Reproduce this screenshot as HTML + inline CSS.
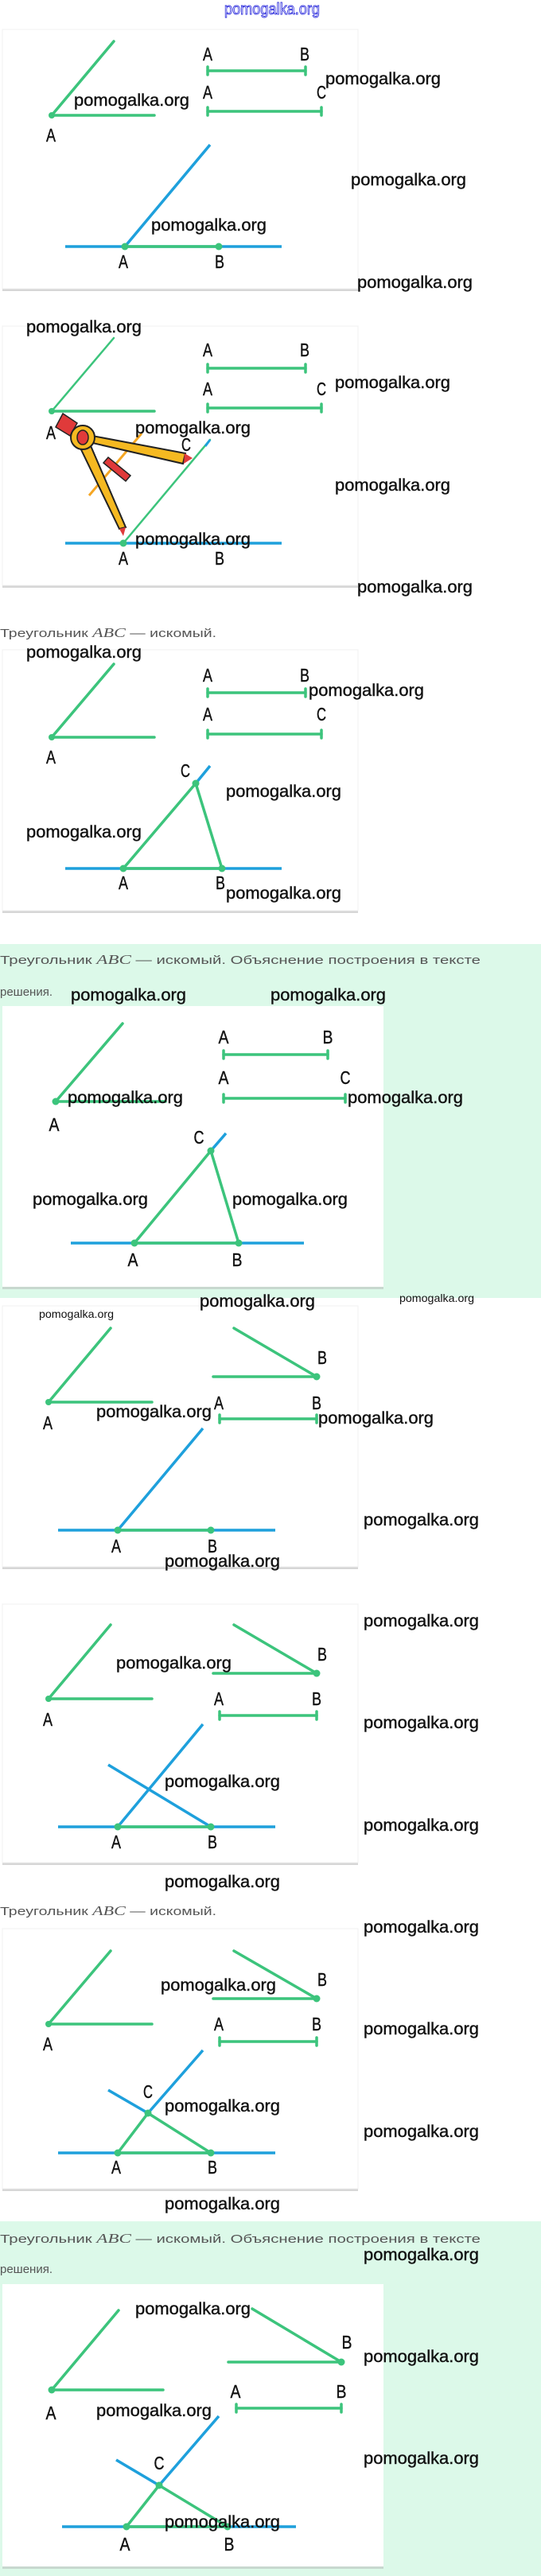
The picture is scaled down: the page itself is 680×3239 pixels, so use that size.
<!DOCTYPE html>
<html><head><meta charset="utf-8"><style>
html,body{margin:0;padding:0;background:#fff}
svg{display:block}
.g{stroke:#3cc47c;stroke-width:3.5;fill:none;stroke-linecap:round}
.b{stroke:#1ea0dc;stroke-width:3.5;fill:none}
.d{fill:#3cc47c}
.L{font-family:"Liberation Sans",sans-serif;font-size:23px;fill:#111;stroke:#111;stroke-width:0.4}
.w{font-family:"Liberation Sans",sans-serif;font-size:21px;fill:#111;stroke:#111;stroke-width:0.4}
.ws{font-family:"Liberation Sans",sans-serif;font-size:14px;fill:#111}
.c{font-family:"Liberation Sans","DejaVu Sans",sans-serif;font-size:15px;fill:#555}
.m{font-family:"Liberation Serif",serif;font-style:italic}
</style></head><body>
<svg width="680" height="3239" viewBox="0 0 680 3239" xmlns="http://www.w3.org/2000/svg">
<rect x="0" y="1187" width="680" height="445" fill="#dcf9e9"/>
<rect x="0" y="2793" width="680" height="446" fill="#dcf9e9"/>

<text x="342" y="18" text-anchor="middle" font-family="Liberation Sans" font-size="20" fill="#fff" stroke="#3333dd" stroke-width="0.9" textLength="120" lengthAdjust="spacingAndGlyphs">pomogalka.org</text>

<!-- ===== Panel 1 ===== -->
<rect x="3" y="39" width="447" height="327" fill="#d6d6d6"/>
<rect x="3" y="37" width="447" height="326" fill="#fff" stroke="#f0f0f0"/>
<line class="g" x1="65" y1="145" x2="143" y2="52"/><line class="g" x1="65" y1="145" x2="194" y2="145"/><circle class="d" cx="65" cy="145" r="4"/>
<text class="L" x="64" y="178" text-anchor="middle" textLength="12" lengthAdjust="spacingAndGlyphs">A</text>
<line class="g" x1="261" y1="89" x2="384" y2="89"/><line class="g" x1="261" y1="84" x2="261" y2="94"/><line class="g" x1="384" y1="84" x2="384" y2="94"/>
<text class="L" x="261" y="76" text-anchor="middle" textLength="12" lengthAdjust="spacingAndGlyphs">A</text><text class="L" x="383" y="76" text-anchor="middle" textLength="12" lengthAdjust="spacingAndGlyphs">B</text>
<line class="g" x1="261" y1="140" x2="404" y2="140"/><line class="g" x1="261" y1="135" x2="261" y2="145"/><line class="g" x1="404" y1="135" x2="404" y2="145"/>
<text class="L" x="261" y="124" text-anchor="middle" textLength="12" lengthAdjust="spacingAndGlyphs">A</text><text class="L" x="404" y="124" text-anchor="middle" textLength="12" lengthAdjust="spacingAndGlyphs">C</text>
<line class="b" x1="82" y1="310" x2="354" y2="310"/><line class="b" x1="157" y1="310" x2="264" y2="182"/><line class="g" x1="157" y1="310" x2="275" y2="310"/>
<circle class="d" cx="157" cy="310" r="4.5"/><circle class="d" cx="275" cy="310" r="4.5"/>
<text class="L" x="155" y="337" text-anchor="middle" textLength="12" lengthAdjust="spacingAndGlyphs">A</text><text class="L" x="276" y="337" text-anchor="middle" textLength="12" lengthAdjust="spacingAndGlyphs">B</text>
<text class="w" x="409" y="106" textLength="145" lengthAdjust="spacingAndGlyphs">pomogalka.org</text>
<text class="w" x="93" y="133" textLength="145" lengthAdjust="spacingAndGlyphs">pomogalka.org</text>
<text class="w" x="441" y="233" textLength="145" lengthAdjust="spacingAndGlyphs">pomogalka.org</text>
<text class="w" x="190" y="290" textLength="145" lengthAdjust="spacingAndGlyphs">pomogalka.org</text>
<text class="w" x="449" y="362" textLength="145" lengthAdjust="spacingAndGlyphs">pomogalka.org</text>

<!-- ===== Panel 2 ===== -->
<rect x="3" y="412" width="447" height="327" fill="#d6d6d6"/>
<rect x="3" y="410" width="447" height="326" fill="#fff" stroke="#f0f0f0"/>
<line class="g" x1="65" y1="517" x2="143" y2="425" style="stroke-width:2.5"/><line class="g" x1="65" y1="517" x2="194" y2="517"/><circle class="d" cx="65" cy="517" r="4"/>
<text class="L" x="64" y="552" text-anchor="middle" textLength="12" lengthAdjust="spacingAndGlyphs">A</text>
<line class="g" x1="261" y1="463" x2="384" y2="463"/><line class="g" x1="261" y1="458" x2="261" y2="468"/><line class="g" x1="384" y1="458" x2="384" y2="468"/>
<text class="L" x="261" y="448" text-anchor="middle" textLength="12" lengthAdjust="spacingAndGlyphs">A</text><text class="L" x="383" y="448" text-anchor="middle" textLength="12" lengthAdjust="spacingAndGlyphs">B</text>
<line class="g" x1="261" y1="513" x2="404" y2="513"/><line class="g" x1="261" y1="508" x2="261" y2="518"/><line class="g" x1="404" y1="508" x2="404" y2="518"/>
<text class="L" x="261" y="497" text-anchor="middle" textLength="12" lengthAdjust="spacingAndGlyphs">A</text><text class="L" x="404" y="497" text-anchor="middle" textLength="12" lengthAdjust="spacingAndGlyphs">C</text>
<line class="b" x1="82" y1="683" x2="354" y2="683"/><line class="g" x1="155" y1="683" x2="264" y2="553" style="stroke-width:2.5"/>
<line x1="264" y1="553" x2="258" y2="561" stroke="#1ea0dc" stroke-width="3"/>
<circle class="d" cx="155" cy="683" r="4.5"/>
<text class="L" x="155" y="710" text-anchor="middle" textLength="12" lengthAdjust="spacingAndGlyphs">A</text><text class="L" x="276" y="710" text-anchor="middle" textLength="12" lengthAdjust="spacingAndGlyphs">B</text>
<text class="L" x="234" y="567" text-anchor="middle" textLength="12" lengthAdjust="spacingAndGlyphs">C</text>
<line x1="112" y1="623" x2="178" y2="545" stroke="#f5a623" stroke-width="3"/>
<polygon points="70,537 88,548 97,532 79,520" fill="#e03a3a" stroke="#222" stroke-width="1.5"/>
<polygon points="100,545 112,556 230,583 233,570" fill="#f5b921" stroke="#222" stroke-width="2"/>
<polygon points="232,570 242,576 231,583" fill="#e03a3a"/>
<polygon points="97,555 112,556 158,663 150,665" fill="#f5b921" stroke="#222" stroke-width="2"/>
<polygon points="150,665 158,663 155,674" fill="#e03a3a"/>
<circle cx="104" cy="550" r="15" fill="#f5b921" stroke="#222" stroke-width="2"/>
<ellipse cx="104" cy="550" rx="7" ry="9" fill="#e03a3a" stroke="#222" stroke-width="1.5"/>
<polygon points="130,582 136,575 164,598 158,605" fill="#e03a3a" stroke="#222" stroke-width="1.5"/>
<text class="w" x="33" y="418" textLength="145" lengthAdjust="spacingAndGlyphs">pomogalka.org</text>
<text class="w" x="421" y="488" textLength="145" lengthAdjust="spacingAndGlyphs">pomogalka.org</text>
<text class="w" x="170" y="545" textLength="145" lengthAdjust="spacingAndGlyphs">pomogalka.org</text>
<text class="w" x="421" y="617" textLength="145" lengthAdjust="spacingAndGlyphs">pomogalka.org</text>
<text class="w" x="170" y="685" textLength="145" lengthAdjust="spacingAndGlyphs">pomogalka.org</text>
<text class="w" x="449" y="745" textLength="145" lengthAdjust="spacingAndGlyphs">pomogalka.org</text>

<text class="c" x="0" y="801" textLength="272" lengthAdjust="spacingAndGlyphs">Треугольник <tspan class="m" font-size="17">ABC</tspan> — искомый.</text>

<!-- ===== Panel 3 ===== -->
<rect x="3" y="819" width="447" height="329" fill="#d6d6d6"/>
<rect x="3" y="817" width="447" height="328" fill="#fff" stroke="#f0f0f0"/>
<line class="g" x1="65" y1="927" x2="143" y2="835"/><line class="g" x1="65" y1="927" x2="194" y2="927"/><circle class="d" cx="65" cy="927" r="4"/>
<text class="L" x="64" y="960" text-anchor="middle" textLength="12" lengthAdjust="spacingAndGlyphs">A</text>
<line class="g" x1="261" y1="871" x2="384" y2="871"/><line class="g" x1="261" y1="866" x2="261" y2="876"/><line class="g" x1="384" y1="866" x2="384" y2="876"/>
<text class="L" x="261" y="857" text-anchor="middle" textLength="12" lengthAdjust="spacingAndGlyphs">A</text><text class="L" x="383" y="857" text-anchor="middle" textLength="12" lengthAdjust="spacingAndGlyphs">B</text>
<line class="g" x1="261" y1="923" x2="404" y2="923"/><line class="g" x1="261" y1="918" x2="261" y2="928"/><line class="g" x1="404" y1="918" x2="404" y2="928"/>
<text class="L" x="261" y="906" text-anchor="middle" textLength="12" lengthAdjust="spacingAndGlyphs">A</text><text class="L" x="404" y="906" text-anchor="middle" textLength="12" lengthAdjust="spacingAndGlyphs">C</text>
<line class="b" x1="82" y1="1092" x2="354" y2="1092"/><line class="b" x1="246" y1="985" x2="264" y2="963"/>
<line class="g" x1="155" y1="1092" x2="279" y2="1092"/><line class="g" x1="155" y1="1092" x2="246" y2="985"/><line class="g" x1="246" y1="985" x2="279" y2="1092"/>
<circle class="d" cx="155" cy="1092" r="4.5"/><circle class="d" cx="279" cy="1092" r="4.5"/><circle class="d" cx="246" cy="985" r="4.5"/>
<text class="L" x="155" y="1118" text-anchor="middle" textLength="12" lengthAdjust="spacingAndGlyphs">A</text><text class="L" x="277" y="1118" text-anchor="middle" textLength="12" lengthAdjust="spacingAndGlyphs">B</text>
<text class="L" x="233" y="977" text-anchor="middle" textLength="12" lengthAdjust="spacingAndGlyphs">C</text>
<text class="w" x="33" y="827" textLength="145" lengthAdjust="spacingAndGlyphs">pomogalka.org</text>
<text class="w" x="388" y="875" textLength="145" lengthAdjust="spacingAndGlyphs">pomogalka.org</text>
<text class="w" x="284" y="1002" textLength="145" lengthAdjust="spacingAndGlyphs">pomogalka.org</text>
<text class="w" x="33" y="1053" textLength="145" lengthAdjust="spacingAndGlyphs">pomogalka.org</text>
<text class="w" x="284" y="1130" textLength="145" lengthAdjust="spacingAndGlyphs">pomogalka.org</text>

<!-- ===== Panel 4 ===== -->
<text class="c" x="0" y="1212" textLength="604" lengthAdjust="spacingAndGlyphs">Треугольник <tspan class="m" font-size="17">ABC</tspan> — искомый. Объяснение построения в тексте</text>
<text class="c" x="0" y="1252">решения.</text>
<rect x="3" y="1267" width="479" height="354" fill="#c8d8cf"/>
<rect x="3" y="1265" width="479" height="353" fill="#fff"/>
<line class="g" x1="70" y1="1385" x2="154" y2="1287"/><line class="g" x1="70" y1="1385" x2="208" y2="1385"/><circle class="d" cx="70" cy="1385" r="4.5"/>
<text class="L" x="68" y="1422" text-anchor="middle" textLength="13" lengthAdjust="spacingAndGlyphs">A</text>
<line class="g" x1="281" y1="1326" x2="412" y2="1326"/><line class="g" x1="281" y1="1321" x2="281" y2="1331"/><line class="g" x1="412" y1="1321" x2="412" y2="1331"/>
<text class="L" x="281" y="1312" text-anchor="middle" textLength="13" lengthAdjust="spacingAndGlyphs">A</text><text class="L" x="412" y="1312" text-anchor="middle" textLength="13" lengthAdjust="spacingAndGlyphs">B</text>
<line class="g" x1="281" y1="1381" x2="434" y2="1381"/><line class="g" x1="281" y1="1376" x2="281" y2="1386"/><line class="g" x1="434" y1="1376" x2="434" y2="1386"/>
<text class="L" x="281" y="1363" text-anchor="middle" textLength="13" lengthAdjust="spacingAndGlyphs">A</text><text class="L" x="434" y="1363" text-anchor="middle" textLength="13" lengthAdjust="spacingAndGlyphs">C</text>
<line class="b" x1="89" y1="1563" x2="382" y2="1563"/><line class="b" x1="265" y1="1447" x2="284" y2="1425"/>
<line class="g" x1="169" y1="1563" x2="300" y2="1563"/><line class="g" x1="169" y1="1563" x2="265" y2="1447"/><line class="g" x1="265" y1="1447" x2="300" y2="1563"/>
<circle class="d" cx="169" cy="1563" r="4.5"/><circle class="d" cx="300" cy="1563" r="4.5"/><circle class="d" cx="265" cy="1447" r="4.5"/>
<text class="L" x="167" y="1592" text-anchor="middle" textLength="13" lengthAdjust="spacingAndGlyphs">A</text><text class="L" x="298" y="1592" text-anchor="middle" textLength="13" lengthAdjust="spacingAndGlyphs">B</text>
<text class="L" x="250" y="1438" text-anchor="middle" textLength="13" lengthAdjust="spacingAndGlyphs">C</text>
<text class="w" x="89" y="1258" textLength="145" lengthAdjust="spacingAndGlyphs">pomogalka.org</text>
<text class="w" x="340" y="1258" textLength="145" lengthAdjust="spacingAndGlyphs">pomogalka.org</text>
<text class="w" x="85" y="1387" textLength="145" lengthAdjust="spacingAndGlyphs">pomogalka.org</text>
<text class="w" x="437" y="1387" textLength="145" lengthAdjust="spacingAndGlyphs">pomogalka.org</text>
<text class="w" x="41" y="1515" textLength="145" lengthAdjust="spacingAndGlyphs">pomogalka.org</text>
<text class="w" x="292" y="1515" textLength="145" lengthAdjust="spacingAndGlyphs">pomogalka.org</text>

<!-- ===== Panel 5 ===== -->
<rect x="3" y="1644" width="447" height="329" fill="#d6d6d6"/>
<rect x="3" y="1642" width="447" height="328" fill="#fff" stroke="#f0f0f0"/>
<text class="w" x="251" y="1643" textLength="145" lengthAdjust="spacingAndGlyphs">pomogalka.org</text>
<text class="ws" x="502" y="1637" textLength="94" lengthAdjust="spacingAndGlyphs">pomogalka.org</text>
<text class="ws" x="49" y="1657" textLength="94" lengthAdjust="spacingAndGlyphs">pomogalka.org</text>
<line class="g" x1="61" y1="1763" x2="139" y2="1670"/><line class="g" x1="61" y1="1763" x2="191" y2="1763"/><circle class="d" cx="61" cy="1763" r="4"/>
<text class="L" x="60" y="1797" text-anchor="middle" textLength="12" lengthAdjust="spacingAndGlyphs">A</text>
<line class="g" x1="294" y1="1670" x2="398" y2="1731"/><line class="g" x1="268" y1="1731" x2="398" y2="1731"/><circle class="d" cx="398" cy="1731" r="4.5"/>
<text class="L" x="405" y="1715" text-anchor="middle" textLength="12" lengthAdjust="spacingAndGlyphs">B</text>
<line class="g" x1="276" y1="1784" x2="398" y2="1784"/><line class="g" x1="276" y1="1779" x2="276" y2="1789"/><line class="g" x1="398" y1="1779" x2="398" y2="1789"/>
<text class="L" x="275" y="1772" text-anchor="middle" textLength="12" lengthAdjust="spacingAndGlyphs">A</text><text class="L" x="398" y="1772" text-anchor="middle" textLength="12" lengthAdjust="spacingAndGlyphs">B</text>
<line class="b" x1="73" y1="1924" x2="346" y2="1924"/><line class="b" x1="148" y1="1924" x2="255" y2="1796"/><line class="g" x1="148" y1="1924" x2="265" y2="1924"/>
<circle class="d" cx="148" cy="1924" r="4.5"/><circle class="d" cx="265" cy="1924" r="4.5"/>
<text class="L" x="146" y="1952" text-anchor="middle" textLength="12" lengthAdjust="spacingAndGlyphs">A</text><text class="L" x="267" y="1952" text-anchor="middle" textLength="12" lengthAdjust="spacingAndGlyphs">B</text>
<text class="w" x="121" y="1782" textLength="145" lengthAdjust="spacingAndGlyphs">pomogalka.org</text>
<text class="w" x="400" y="1790" textLength="145" lengthAdjust="spacingAndGlyphs">pomogalka.org</text>
<text class="w" x="457" y="1918" textLength="145" lengthAdjust="spacingAndGlyphs">pomogalka.org</text>
<text class="w" x="207" y="1970" textLength="145" lengthAdjust="spacingAndGlyphs">pomogalka.org</text>

<!-- ===== Panel 6 ===== -->
<rect x="3" y="2019" width="447" height="326" fill="#d6d6d6"/>
<rect x="3" y="2017" width="447" height="325" fill="#fff" stroke="#f0f0f0"/>
<line class="g" x1="61" y1="2136" x2="139" y2="2043"/><line class="g" x1="61" y1="2136" x2="191" y2="2136"/><circle class="d" cx="61" cy="2136" r="4"/>
<text class="L" x="60" y="2170" text-anchor="middle" textLength="12" lengthAdjust="spacingAndGlyphs">A</text>
<line class="g" x1="294" y1="2043" x2="398" y2="2104"/><line class="g" x1="268" y1="2104" x2="398" y2="2104"/><circle class="d" cx="398" cy="2104" r="4.5"/>
<text class="L" x="405" y="2088" text-anchor="middle" textLength="12" lengthAdjust="spacingAndGlyphs">B</text>
<line class="g" x1="276" y1="2157" x2="398" y2="2157"/><line class="g" x1="276" y1="2152" x2="276" y2="2162"/><line class="g" x1="398" y1="2152" x2="398" y2="2162"/>
<text class="L" x="275" y="2144" text-anchor="middle" textLength="12" lengthAdjust="spacingAndGlyphs">A</text><text class="L" x="398" y="2144" text-anchor="middle" textLength="12" lengthAdjust="spacingAndGlyphs">B</text>
<line class="b" x1="73" y1="2297" x2="346" y2="2297"/><line class="b" x1="148" y1="2297" x2="255" y2="2168"/><line class="b" x1="265" y1="2297" x2="136" y2="2219"/><line class="g" x1="148" y1="2297" x2="265" y2="2297"/>
<circle class="d" cx="148" cy="2297" r="4.5"/><circle class="d" cx="265" cy="2297" r="4.5"/>
<text class="L" x="146" y="2324" text-anchor="middle" textLength="12" lengthAdjust="spacingAndGlyphs">A</text><text class="L" x="267" y="2324" text-anchor="middle" textLength="12" lengthAdjust="spacingAndGlyphs">B</text>
<text class="w" x="457" y="2045" textLength="145" lengthAdjust="spacingAndGlyphs">pomogalka.org</text>
<text class="w" x="146" y="2098" textLength="145" lengthAdjust="spacingAndGlyphs">pomogalka.org</text>
<text class="w" x="457" y="2173" textLength="145" lengthAdjust="spacingAndGlyphs">pomogalka.org</text>
<text class="w" x="207" y="2247" textLength="145" lengthAdjust="spacingAndGlyphs">pomogalka.org</text>
<text class="w" x="457" y="2302" textLength="145" lengthAdjust="spacingAndGlyphs">pomogalka.org</text>
<text class="w" x="207" y="2373" textLength="145" lengthAdjust="spacingAndGlyphs">pomogalka.org</text>

<!-- ===== Panel 7 ===== -->
<text class="c" x="0" y="2408" textLength="272" lengthAdjust="spacingAndGlyphs">Треугольник <tspan class="m" font-size="17">ABC</tspan> — искомый.</text>
<rect x="3" y="2427" width="447" height="328" fill="#d6d6d6"/>
<rect x="3" y="2425" width="447" height="327" fill="#fff" stroke="#f0f0f0"/>
<line class="g" x1="61" y1="2545" x2="139" y2="2453"/><line class="g" x1="61" y1="2545" x2="191" y2="2545"/><circle class="d" cx="61" cy="2545" r="4"/>
<text class="L" x="60" y="2578" text-anchor="middle" textLength="12" lengthAdjust="spacingAndGlyphs">A</text>
<line class="g" x1="294" y1="2453" x2="398" y2="2513"/><line class="g" x1="268" y1="2513" x2="398" y2="2513"/><circle class="d" cx="398" cy="2513" r="4.5"/>
<text class="L" x="405" y="2497" text-anchor="middle" textLength="12" lengthAdjust="spacingAndGlyphs">B</text>
<line class="g" x1="276" y1="2567" x2="398" y2="2567"/><line class="g" x1="276" y1="2562" x2="276" y2="2572"/><line class="g" x1="398" y1="2562" x2="398" y2="2572"/>
<text class="L" x="275" y="2553" text-anchor="middle" textLength="12" lengthAdjust="spacingAndGlyphs">A</text><text class="L" x="398" y="2553" text-anchor="middle" textLength="12" lengthAdjust="spacingAndGlyphs">B</text>
<line class="b" x1="73" y1="2707" x2="346" y2="2707"/><line class="b" x1="186" y1="2657" x2="255" y2="2578"/><line class="b" x1="186" y1="2657" x2="136" y2="2628"/>
<line class="g" x1="148" y1="2707" x2="265" y2="2707"/><line class="g" x1="148" y1="2707" x2="186" y2="2657"/><line class="g" x1="186" y1="2657" x2="265" y2="2707"/>
<circle class="d" cx="148" cy="2707" r="4.5"/><circle class="d" cx="265" cy="2707" r="4.5"/><circle class="d" cx="186" cy="2657" r="4.5"/>
<text class="L" x="146" y="2733" text-anchor="middle" textLength="12" lengthAdjust="spacingAndGlyphs">A</text><text class="L" x="267" y="2733" text-anchor="middle" textLength="12" lengthAdjust="spacingAndGlyphs">B</text>
<text class="L" x="186" y="2638" text-anchor="middle" textLength="12" lengthAdjust="spacingAndGlyphs">C</text>
<text class="w" x="457" y="2430" textLength="145" lengthAdjust="spacingAndGlyphs">pomogalka.org</text>
<text class="w" x="202" y="2503" textLength="145" lengthAdjust="spacingAndGlyphs">pomogalka.org</text>
<text class="w" x="457" y="2558" textLength="145" lengthAdjust="spacingAndGlyphs">pomogalka.org</text>
<text class="w" x="207" y="2655" textLength="145" lengthAdjust="spacingAndGlyphs">pomogalka.org</text>
<text class="w" x="457" y="2687" textLength="145" lengthAdjust="spacingAndGlyphs">pomogalka.org</text>
<text class="w" x="207" y="2778" textLength="145" lengthAdjust="spacingAndGlyphs">pomogalka.org</text>

<!-- ===== Panel 8 ===== -->
<text class="c" x="0" y="2820" textLength="604" lengthAdjust="spacingAndGlyphs">Треугольник <tspan class="m" font-size="17">ABC</tspan> — искомый. Объяснение построения в тексте</text>
<text class="c" x="0" y="2858">решения.</text>
<rect x="3" y="2874" width="479" height="356" fill="#c8d8cf"/>
<rect x="3" y="2872" width="479" height="355" fill="#fff"/>
<line class="g" x1="65" y1="3005" x2="149" y2="2905"/><line class="g" x1="65" y1="3005" x2="205" y2="3005"/><circle class="d" cx="65" cy="3005" r="4.5"/>
<text class="L" x="64" y="3042" text-anchor="middle" textLength="13" lengthAdjust="spacingAndGlyphs">A</text>
<line class="g" x1="317" y1="2903" x2="429" y2="2970"/><line class="g" x1="287" y1="2970" x2="429" y2="2970"/><circle class="d" cx="429" cy="2970" r="4.5"/>
<text class="L" x="436" y="2953" text-anchor="middle" textLength="13" lengthAdjust="spacingAndGlyphs">B</text>
<line class="g" x1="297" y1="3028" x2="429" y2="3028"/><line class="g" x1="297" y1="3023" x2="297" y2="3033"/><line class="g" x1="429" y1="3023" x2="429" y2="3033"/>
<text class="L" x="296" y="3015" text-anchor="middle" textLength="13" lengthAdjust="spacingAndGlyphs">A</text><text class="L" x="429" y="3015" text-anchor="middle" textLength="13" lengthAdjust="spacingAndGlyphs">B</text>
<line class="b" x1="78" y1="3177" x2="372" y2="3177"/><line class="b" x1="200" y1="3125" x2="275" y2="3038"/><line class="b" x1="200" y1="3125" x2="146" y2="3093"/>
<line class="g" x1="159" y1="3177" x2="286" y2="3177"/><line class="g" x1="159" y1="3177" x2="200" y2="3125"/><line class="g" x1="200" y1="3125" x2="286" y2="3177"/>
<circle class="d" cx="159" cy="3177" r="4.5"/><circle class="d" cx="286" cy="3177" r="4.5"/><circle class="d" cx="200" cy="3125" r="4.5"/>
<text class="L" x="157" y="3207" text-anchor="middle" textLength="13" lengthAdjust="spacingAndGlyphs">A</text><text class="L" x="288" y="3207" text-anchor="middle" textLength="13" lengthAdjust="spacingAndGlyphs">B</text>
<text class="L" x="200" y="3105" text-anchor="middle" textLength="13" lengthAdjust="spacingAndGlyphs">C</text>
<text class="w" x="457" y="2842" textLength="145" lengthAdjust="spacingAndGlyphs">pomogalka.org</text>
<text class="w" x="170" y="2910" textLength="145" lengthAdjust="spacingAndGlyphs">pomogalka.org</text>
<text class="w" x="457" y="2970" textLength="145" lengthAdjust="spacingAndGlyphs">pomogalka.org</text>
<text class="w" x="121" y="3038" textLength="145" lengthAdjust="spacingAndGlyphs">pomogalka.org</text>
<text class="w" x="457" y="3098" textLength="145" lengthAdjust="spacingAndGlyphs">pomogalka.org</text>
<text class="w" x="207" y="3178" textLength="145" lengthAdjust="spacingAndGlyphs">pomogalka.org</text>
</svg>
</body></html>
